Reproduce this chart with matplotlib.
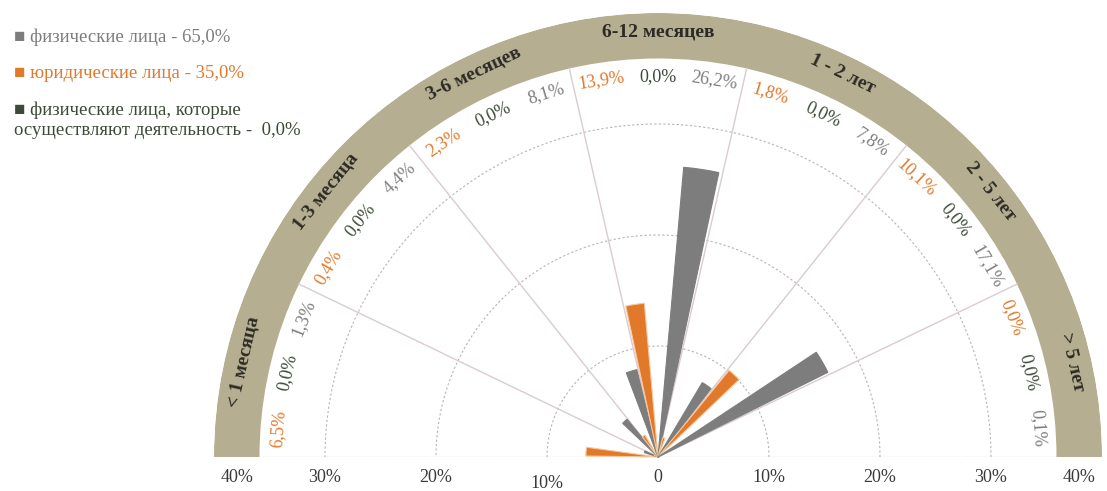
import matplotlib.pyplot as plt
import numpy as np

categories = ["< 1 месяца", "1-3 месяца", "3-6 месяцев", "6-12 месяцев",
              "1 - 2 лет", "2 - 5 лет", "> 5 лет"]
legal = [6.5, 0.4, 2.3, 13.9, 1.8, 10.1, 0.0]
entrepreneurs = [0.0, 0.0, 0.0, 0.0, 0.0, 0.0, 0.0]
individuals = [1.3, 4.4, 8.1, 26.2, 7.8, 17.1, 0.1]
series_labels = ["физические лица - 65,0%", "юридические лица - 35,0%",
                 "физические лица, которые\nосуществляют деятельность -  0,0%"]
ticks = [40, 30, 20, 10, 0, 10, 20, 30, 40]

c_gray = "#7d7d7d"
c_orange = "#e2782a"
c_green = "#3d4a38"
c_band = "#b6ae90"
c_text = "#2b2a24"
serif = ["Liberation Serif", "DejaVu Serif"]

W, H = 1107, 491
cx, cy, R = 658, 457, 444   # centre and outer radius in pixels (from top)
fig = plt.figure(figsize=(W / 100, H / 100), dpi=100)
# the half disc sits in the middle of a square axes box
S = 2 * R
ax = fig.add_axes([(cx - R) / W, (H - (cy + S / 4)) / H, S / W, S / H],
                  projection="polar")
ax.set_thetamin(0)
ax.set_thetamax(180)
ax.set_ylim(0, 40)
ax.axis("off")

n = len(categories)
w = 180.0 / n
sub = w / 3

# band with category names
ax.bar(np.pi / 2, 4.1, width=np.pi, bottom=35.9, color=c_band, linewidth=0)

# grid arcs
th = np.linspace(0, np.pi, 300)
for r in [10, 20, 30]:
    ax.plot(th, np.full_like(th, r), color="#b5b5b5", lw=0.8, ls=(0, (2, 2)))
# baseline
for t in [0, np.pi]:
    ax.plot([t, t], [0, 35.9], color="#c4c4c4", lw=1.0, ls=(0, (1, 1)))
# sector dividers
for k in range(1, n):
    t = np.deg2rad(k * w)
    ax.plot([t, t], [0, 35.9], color="#dacad4", lw=1.0)

series = [(legal, c_orange), (entrepreneurs, c_green), (individuals, c_gray)]
bw = np.deg2rad(7)
for i in range(n):
    start = 180 - i * w
    for j, (vals, col) in enumerate(series):
        deg = start - (j + 0.5) * sub
        t = np.deg2rad(deg)
        v = vals[i]
        if v > 0:
            ec = "#f6c99d" if col == c_orange else col
            ax.bar(t, v, width=bw, bottom=0, color=col, edgecolor=ec,
                   linewidth=0.8, zorder=3, clip_on=False)
        ax.text(t, 34.3, ("%.1f%%" % v).replace(".", ","), color=col,
                fontsize=13, family=serif, rotation=deg - 90,
                rotation_mode="anchor", ha="center", va="center")
    mid = start - w / 2
    ax.text(np.deg2rad(mid), 38.3, categories[i], color=c_text, fontsize=14,
            family=serif, fontweight="bold", rotation=mid - 90,
            rotation_mode="anchor", ha="center", va="center")

# radial tick labels along the baseline
for k, v in enumerate(ticks):
    t = np.pi if k < 4 else 0.0
    lab = "0" if v == 0 else "%d%%" % v
    dy = -27 if k == 3 else -21
    pos = 37.9 if v == 40 else v
    ax.annotate(lab, xy=(t, pos), xytext=(0, dy), textcoords="offset pixels",
                ha="center", va="center", fontsize=13, family=serif,
                color="#3a3a3a", annotation_clip=False)

# legend
leg_cols = [c_gray, c_orange, c_green]
leg_y = [37, 73, 120]
for lab, col, y in zip(series_labels, leg_cols, leg_y):
    fig.text(14 / W, 1 - y / H, "\u25a0 " + lab, color=col, fontsize=13.5,
             family=["Liberation Serif", "DejaVu Sans"], ha="left", va="center",
             linespacing=1.2)

fig.savefig("out.png", dpi=100)
